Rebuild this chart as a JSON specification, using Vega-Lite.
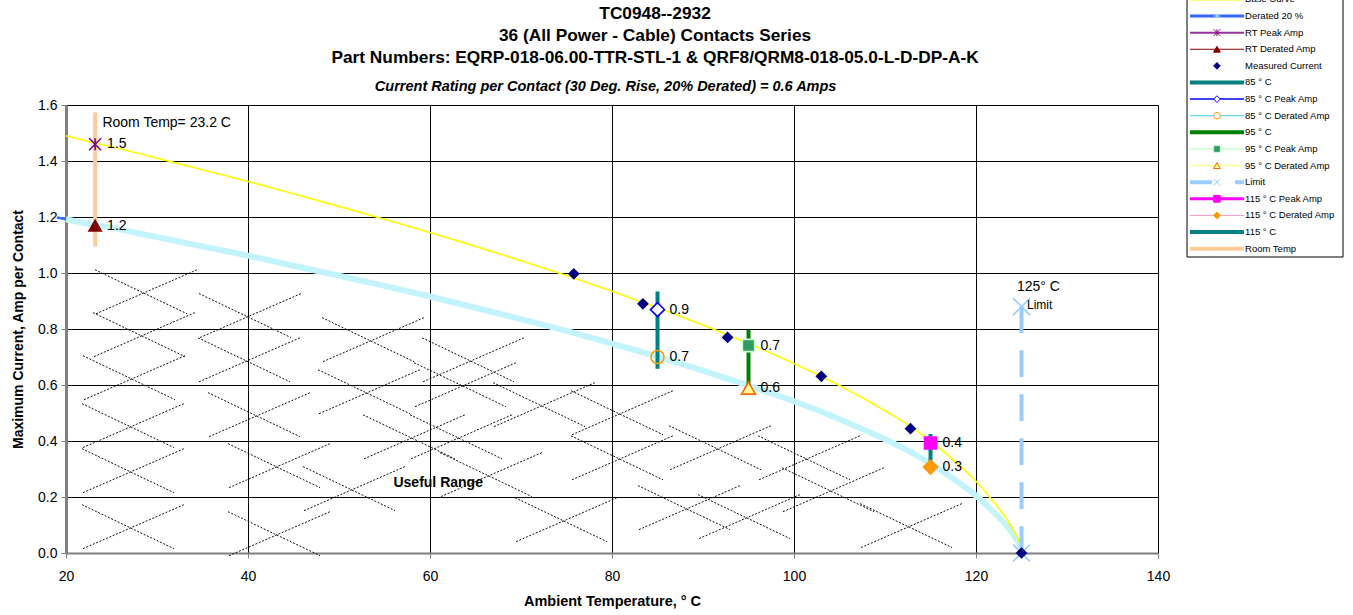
{
  "$schema": "https://vega.github.io/schema/vega-lite/v6.json",
  "background": "white",
  "width": 1092,
  "height": 448,
  "autosize": {"type": "none"},
  "padding": {"left": 66, "top": 105, "right": 195, "bottom": 62},
  "config": {"font": "Liberation Sans", "view": {"stroke": null}},
  "datasets": {
    "curve": [
      {"s": "base", "T": 20, "amp": 1.49}, {"s": "base", "T": 23.2, "amp": 1.464}, {"s": "base", "T": 25, "amp": 1.451},
      {"s": "base", "T": 30, "amp": 1.41}, {"s": "base", "T": 35, "amp": 1.369}, {"s": "base", "T": 40, "amp": 1.327},
      {"s": "base", "T": 45, "amp": 1.283}, {"s": "base", "T": 50, "amp": 1.238}, {"s": "base", "T": 55, "amp": 1.192},
      {"s": "base", "T": 60, "amp": 1.145}, {"s": "base", "T": 65, "amp": 1.095}, {"s": "base", "T": 70, "amp": 1.044},
      {"s": "base", "T": 75, "amp": 0.991}, {"s": "base", "T": 80, "amp": 0.935}, {"s": "base", "T": 85, "amp": 0.876},
      {"s": "base", "T": 90, "amp": 0.814}, {"s": "base", "T": 95, "amp": 0.748}, {"s": "base", "T": 100, "amp": 0.677},
      {"s": "base", "T": 105, "amp": 0.598}, {"s": "base", "T": 110, "amp": 0.508}, {"s": "base", "T": 113, "amp": 0.448},
      {"s": "base", "T": 115, "amp": 0.4}, {"s": "base", "T": 118, "amp": 0.318}, {"s": "base", "T": 120, "amp": 0.256},
      {"s": "base", "T": 121.5, "amp": 0.2}, {"s": "base", "T": 122.5, "amp": 0.16}, {"s": "base", "T": 123.5, "amp": 0.115},
      {"s": "base", "T": 124.3, "amp": 0.07}, {"s": "base", "T": 124.8, "amp": 0.035}, {"s": "base", "T": 125, "amp": 0},
      {"s": "derated", "T": 19, "amp": 1.198}, {"s": "derated", "T": 20, "amp": 1.192}, {"s": "derated", "T": 23.2, "amp": 1.171},
      {"s": "derated", "T": 25, "amp": 1.161}, {"s": "derated", "T": 30, "amp": 1.128}, {"s": "derated", "T": 35, "amp": 1.095},
      {"s": "derated", "T": 40, "amp": 1.062}, {"s": "derated", "T": 45, "amp": 1.026}, {"s": "derated", "T": 50, "amp": 0.99},
      {"s": "derated", "T": 55, "amp": 0.954}, {"s": "derated", "T": 60, "amp": 0.916}, {"s": "derated", "T": 65, "amp": 0.876},
      {"s": "derated", "T": 70, "amp": 0.835}, {"s": "derated", "T": 75, "amp": 0.793}, {"s": "derated", "T": 80, "amp": 0.748},
      {"s": "derated", "T": 85, "amp": 0.701}, {"s": "derated", "T": 90, "amp": 0.651}, {"s": "derated", "T": 95, "amp": 0.598},
      {"s": "derated", "T": 100, "amp": 0.542}, {"s": "derated", "T": 105, "amp": 0.478}, {"s": "derated", "T": 110, "amp": 0.406},
      {"s": "derated", "T": 113, "amp": 0.358}, {"s": "derated", "T": 115, "amp": 0.32}, {"s": "derated", "T": 118, "amp": 0.254},
      {"s": "derated", "T": 120, "amp": 0.205}, {"s": "derated", "T": 121.5, "amp": 0.16}, {"s": "derated", "T": 122.5, "amp": 0.128},
      {"s": "derated", "T": 123.5, "amp": 0.092}, {"s": "derated", "T": 124.3, "amp": 0.056}, {"s": "derated", "T": 124.8, "amp": 0.028},
      {"s": "derated", "T": 125, "amp": 0}
    ],
    "hatch": [
      {"T": 28.46, "amp": 0.933}, {"T": 28.24, "amp": 0.78}, {"T": 27.14, "amp": 0.626}, {"T": 27.03, "amp": 0.455},
      {"T": 27.03, "amp": 0.294}, {"T": 27.03, "amp": 0.094},
      {"T": 39.89, "amp": 0.848}, {"T": 39.78, "amp": 0.69}, {"T": 40.88, "amp": 0.494}, {"T": 43.08, "amp": 0.312},
      {"T": 43.08, "amp": 0.069},
      {"T": 53.41, "amp": 0.762}, {"T": 52.97, "amp": 0.576}, {"T": 57.91, "amp": 0.415}, {"T": 51.32, "amp": 0.23},
      {"T": 64.4, "amp": 0.69}, {"T": 63.52, "amp": 0.601}, {"T": 63.08, "amp": 0.415}, {"T": 66.37, "amp": 0.28},
      {"T": 72.2, "amp": 0.53}, {"T": 74.62, "amp": 0.119},
      {"T": 80.77, "amp": 0.501}, {"T": 80.77, "amp": 0.34}, {"T": 88.13, "amp": 0.162}, {"T": 91.54, "amp": 0.376},
      {"T": 94.73, "amp": 0.13}, {"T": 101.32, "amp": 0.34}, {"T": 103.96, "amp": 0.226}, {"T": 112.53, "amp": 0.098}
    ],
    "bars": [
      {"name": "RT", "T": 23.2, "amp": 1.095, "amp2": 1.574},
      {"name": "85", "T": 85, "amp": 0.658, "amp2": 0.934},
      {"name": "95", "T": 95, "amp": 0.589, "amp2": 0.797},
      {"name": "115", "T": 115, "amp": 0.307, "amp2": 0.425}
    ],
    "limit": [{"T": 125, "amp": 0, "amp2": 0.88}],
    "markers": [
      {"name": "Limit", "T": 125, "amp": 0.88, "label": ""},
      {"name": "Limit", "T": 125, "amp": 0, "label": ""},
      {"name": "Measured", "T": 75.8, "amp": 0.997, "label": ""},
      {"name": "Measured", "T": 83.4, "amp": 0.89, "label": ""},
      {"name": "Measured", "T": 92.7, "amp": 0.77, "label": ""},
      {"name": "Measured", "T": 103.0, "amp": 0.631, "label": ""},
      {"name": "Measured", "T": 112.8, "amp": 0.444, "label": ""},
      {"name": "Measured", "T": 125, "amp": 0, "label": ""},
      {"name": "RT Peak", "T": 23.2, "amp": 1.46, "label": "1.5"},
      {"name": "RT Derated", "T": 23.2, "amp": 1.169, "label": "1.2"},
      {"name": "85 Peak", "T": 85, "amp": 0.869, "label": "0.9"},
      {"name": "85 Derated", "T": 85, "amp": 0.7, "label": "0.7"},
      {"name": "95 Peak", "T": 95, "amp": 0.741, "label": "0.7"},
      {"name": "95 Derated", "T": 95, "amp": 0.589, "label": "0.6"},
      {"name": "115 Peak", "T": 115, "amp": 0.393, "label": "0.4"},
      {"name": "115 Derated", "T": 115, "amp": 0.307, "label": "0.3"}
    ],
    "notes": [
      {"kind": "title", "text": "TC0948--2932", "T": 84.73, "amp": 1.926},
      {"kind": "title", "text": "36 (All Power - Cable) Contacts Series", "T": 84.73, "amp": 1.8475},
      {"kind": "title", "text": "Part Numbers: EQRP-018-06.00-TTR-STL-1 & QRF8/QRM8-018-05.0-L-D-DP-A-K", "T": 84.73, "amp": 1.769},
      {"kind": "sub", "text": "Current Rating per Contact (30 Deg. Rise, 20% Derated)  = 0.6 Amps", "T": 79.3, "amp": 1.665},
      {"kind": "plain", "text": "Room Temp= 23.2 C", "T": 24.0, "amp": 1.537},
      {"kind": "plain", "text": "125° C", "T": 124.5, "amp": 0.951},
      {"kind": "small", "text": "Limit", "T": 127.0, "amp": 0.885},
      {"kind": "bold", "text": "Useful Range", "T": 60.9, "amp": 0.251}
    ],
    "legend": [
      {"name": "Base Curve", "ord": 0}, {"name": "Derated 20 %", "ord": 1}, {"name": "RT Peak Amp", "ord": 2},
      {"name": "RT Derated Amp", "ord": 3}, {"name": "Measured Current", "ord": 4}, {"name": "85 ° C", "ord": 5},
      {"name": "85  ° C Peak Amp", "ord": 6}, {"name": "85  ° C Derated Amp", "ord": 7}, {"name": "95  ° C", "ord": 8},
      {"name": "95  ° C Peak Amp", "ord": 9}, {"name": "95  ° C Derated Amp", "ord": 10}, {"name": "Limit", "ord": 11},
      {"name": "115  ° C Peak Amp", "ord": 12}, {"name": "115  ° C Derated Amp", "ord": 13}, {"name": "115  ° C", "ord": 14},
      {"name": "Room Temp", "ord": 15}
    ]
  },
  "layer": [
    {
      "encoding": {
        "x": {
          "field": "T", "type": "quantitative",
          "scale": {"domain": [20, 140], "nice": false, "zero": false},
          "axis": {
            "values": [20, 40, 60, 80, 100, 120, 140], "format": "d",
            "title": "Ambient Temperature,  ° C", "titleFontSize": 14.5, "titleFontWeight": "bold", "titleColor": "#000", "titlePadding": 11,
            "labelFontSize": 14, "labelColor": "#000", "labelPadding": 11, "labelFlush": false,
            "tickSize": 5, "tickColor": "#808080", "domainColor": "#808080", "domainWidth": 2,
            "grid": true, "gridColor": "#000", "gridWidth": 1, "gridOpacity": 1
          }
        },
        "y": {
          "field": "amp", "type": "quantitative",
          "scale": {"domain": [0, 1.6], "nice": false, "zero": false},
          "axis": {
            "values": [0, 0.2, 0.4, 0.6, 0.8, 1.0, 1.2, 1.4, 1.6], "format": ".1f",
            "title": "Maximum Current, Amp per Contact", "titleFontSize": 14, "titleFontWeight": "bold", "titleColor": "#000", "titlePadding": 12,
            "labelFontSize": 14, "labelColor": "#000", "labelPadding": 4, "labelFlush": false,
            "tickSize": 5, "tickColor": "#808080", "domainColor": "#808080", "domainWidth": 3,
            "grid": true, "gridColor": "#000", "gridWidth": 1, "gridOpacity": 1
          }
        }
      },
      "layer": [
        {
          "data": {"name": "hatch"},
          "mark": {"type": "point", "shape": "M-0.96,-0.44L0.88,0.44M-0.94,0.44L1.08,-0.44", "size": 10000, "filled": false,
                   "stroke": "#111", "strokeWidth": 1, "strokeDash": [2, 1.6], "opacity": 1}
        },
        {
          "data": {"name": "curve"},
          "transform": [{"filter": "datum.s === 'derated'"}],
          "mark": {"type": "line", "color": "#3366ff", "strokeWidth": 2.5, "interpolate": "monotone"}
        },
        {
          "data": {"name": "curve"},
          "transform": [{"filter": "datum.s === 'derated' && datum.T >= 20"}],
          "mark": {"type": "line", "color": "#c4f4fb", "strokeWidth": 6, "interpolate": "monotone"}
        },
        {
          "data": {"name": "curve"},
          "transform": [{"filter": "datum.s === 'base'"}],
          "mark": {"type": "line", "color": "#ffff00", "strokeWidth": 1.6, "interpolate": "monotone"}
        },
        {
          "data": {"name": "bars"},
          "mark": {"type": "rule", "strokeWidth": 4},
          "encoding": {
            "y2": {"field": "amp2"},
            "color": {"field": "name", "type": "nominal", "legend": null,
                      "scale": {"domain": ["RT", "85", "95", "115"], "range": ["#ffcc99", "#008080", "#008000", "#008080"]}}
          }
        },
        {
          "data": {"name": "limit"},
          "mark": {"type": "rule", "color": "#99ccff", "strokeWidth": 4, "strokeDash": [26.7, 17.3]},
          "encoding": {"y2": {"field": "amp2"}}
        },
        {
          "data": {"name": "markers"},
          "mark": {"type": "point", "opacity": 1, "strokeWidth": 1.6},
          "encoding": {
            "shape": {"field": "name", "type": "nominal", "legend": null,
              "scale": {"domain": ["Measured", "Limit", "RT Peak", "RT Derated", "85 Peak", "85 Derated", "95 Peak", "95 Derated", "115 Peak", "115 Derated"],
                        "range": ["diamond", "M-1,-1L1,1M-1,1L1,-1", "M-1,-1L1,1M-1,1L1,-1M0,-1L0,1", "triangle-up", "diamond", "circle", "square", "triangle-up", "square", "diamond"]}},
            "fill": {"field": "name", "type": "nominal", "legend": null,
              "scale": {"domain": ["Measured", "Limit", "RT Peak", "RT Derated", "85 Peak", "85 Derated", "95 Peak", "95 Derated", "115 Peak", "115 Derated"],
                        "range": ["#000080", "transparent", "transparent", "#800000", "#ffffff", "transparent", "#339966", "#ffff99", "#ff00ff", "#ff9900"]}},
            "stroke": {"field": "name", "type": "nominal", "legend": null,
              "scale": {"domain": ["Measured", "Limit", "RT Peak", "RT Derated", "85 Peak", "85 Derated", "95 Peak", "95 Derated", "115 Peak", "115 Derated"],
                        "range": ["#000080", "#99ccff", "#800080", "#800000", "#0000ff", "#ff9900", "#ccffcc", "#ff6600", "#ff00ff", "#ff9900"]}},
            "size": {"field": "name", "type": "nominal", "legend": null,
              "scale": {"type": "ordinal", "domain": ["Measured", "Limit", "RT Peak", "RT Derated", "85 Peak", "85 Derated", "95 Peak", "95 Derated", "115 Peak", "115 Derated"],
                        "range": [90, 289, 144, 150, 196, 169, 150, 196, 144, 196]}}
          }
        },
        {
          "data": {"name": "markers"},
          "transform": [{"filter": "datum.label !== ''"}],
          "mark": {"type": "text", "align": "left", "baseline": "middle", "dx": 12, "fontSize": 14, "color": "#000"},
          "encoding": {"text": {"field": "label"}}
        },
        {
          "data": {"name": "notes"},
          "transform": [{"filter": "datum.kind === 'title'"}],
          "mark": {"type": "text", "align": "center", "baseline": "middle", "fontSize": 17.3, "fontWeight": "bold", "color": "#000"},
          "encoding": {"text": {"field": "text"}}
        },
        {
          "data": {"name": "notes"},
          "transform": [{"filter": "datum.kind === 'plain'"}],
          "mark": {"type": "text", "align": "left", "baseline": "middle", "fontSize": 14, "color": "#000"},
          "encoding": {"text": {"field": "text"}}
        },
        {
          "data": {"name": "notes"},
          "transform": [{"filter": "datum.kind === 'small'"}],
          "mark": {"type": "text", "align": "center", "baseline": "middle", "fontSize": 12, "color": "#000"},
          "encoding": {"text": {"field": "text"}}
        },
        {
          "data": {"name": "notes"},
          "transform": [{"filter": "datum.kind === 'bold'"}],
          "mark": {"type": "text", "align": "center", "baseline": "middle", "fontSize": 14, "fontWeight": "bold", "color": "#000"},
          "encoding": {"text": {"field": "text"}}
        },
        {
          "data": {"name": "notes"},
          "transform": [{"filter": "datum.kind === 'sub'"}],
          "mark": {"type": "text", "align": "center", "baseline": "middle", "fontSize": 14.5, "fontWeight": "bold", "fontStyle": "italic", "color": "#000"},
          "encoding": {"text": {"field": "text"}}
        }
      ]
    },
    {
      "layer": [
        {
          "data": {"values": [{"box": "legend"}]},
          "mark": {"type": "rect", "fill": "#ffffff", "stroke": "#000", "strokeWidth": 1},
          "encoding": {
            "x": {"datum": 0, "type": "quantitative", "scale": {"domain": [-71.86, -1.86], "nice": false, "zero": false}, "axis": null},
            "x2": {"datum": 10},
            "y": {"datum": -0.5, "type": "quantitative", "scale": {"domain": [6.354, 33.309], "nice": false, "zero": false, "reverse": true}, "axis": null},
            "y2": {"datum": 15.5}
          }
        },
        {
          "data": {"name": "legend"},
          "transform": [{"filter": {"not": {"field": "name", "equal": "Measured Current"}}}],
          "mark": {"type": "rule"},
          "encoding": {
            "x": {"datum": 0.19, "type": "quantitative"},
            "x2": {"datum": 3.65},
            "y": {"field": "ord", "type": "quantitative"},
            "color": {"field": "name", "type": "nominal", "legend": null,
              "scale": {"domain": ["Base Curve", "Derated 20 %", "RT Peak Amp", "RT Derated Amp", "85 ° C", "85  ° C Peak Amp", "85  ° C Derated Amp", "95  ° C", "95  ° C Peak Amp", "95  ° C Derated Amp", "Limit", "115  ° C Peak Amp", "115  ° C Derated Amp", "115  ° C", "Room Temp"],
                        "range": ["#ffff00", "#3366ff", "#993399", "#800000", "#008080", "#0000ff", "#33ccff", "#008000", "#ccffcc", "#ffff99", "#99ccff", "#ff00ff", "#ff99cc", "#008080", "#ffcc99"]}},
            "strokeWidth": {"field": "name", "type": "nominal", "legend": null,
              "scale": {"type": "ordinal", "domain": ["Base Curve", "Derated 20 %", "RT Peak Amp", "RT Derated Amp", "85 ° C", "85  ° C Peak Amp", "85  ° C Derated Amp", "95  ° C", "95  ° C Peak Amp", "95  ° C Derated Amp", "Limit", "115  ° C Peak Amp", "115  ° C Derated Amp", "115  ° C", "Room Temp"],
                        "range": [2, 3, 2, 1, 4, 1.5, 1, 4, 1.5, 1.5, 4, 3, 1, 4, 4]}},
            "strokeDash": {"field": "name", "type": "nominal", "legend": null,
              "scale": {"domain": ["Base Curve", "Derated 20 %", "RT Peak Amp", "RT Derated Amp", "85 ° C", "85  ° C Peak Amp", "85  ° C Derated Amp", "95  ° C", "95  ° C Peak Amp", "95  ° C Derated Amp", "Limit", "115  ° C Peak Amp", "115  ° C Derated Amp", "115  ° C", "Room Temp"],
                        "range": [[1, 0], [1, 0], [1, 0], [1, 0], [1, 0], [1, 0], [1, 0], [1, 0], [1, 0], [1, 0], [22, 23], [1, 0], [1, 0], [1, 0], [1, 0]]}}
          }
        },
        {
          "data": {"name": "legend"},
          "transform": [{"filter": {"field": "name", "oneOf": ["Derated 20 %", "RT Peak Amp", "RT Derated Amp", "Measured Current", "85  ° C Peak Amp", "85  ° C Derated Amp", "95  ° C Peak Amp", "95  ° C Derated Amp", "Limit", "115  ° C Peak Amp", "115  ° C Derated Amp"]}}],
          "mark": {"type": "point", "opacity": 1, "size": 45, "strokeWidth": 1},
          "encoding": {
            "x": {"datum": 1.92, "type": "quantitative"},
            "y": {"field": "ord", "type": "quantitative"},
            "shape": {"field": "name", "type": "nominal", "legend": null,
              "scale": {"domain": ["Derated 20 %", "RT Peak Amp", "RT Derated Amp", "Measured Current", "85  ° C Peak Amp", "85  ° C Derated Amp", "95  ° C Peak Amp", "95  ° C Derated Amp", "Limit", "115  ° C Peak Amp", "115  ° C Derated Amp"],
                        "range": ["M-1,0L1,0M0,-1L0,1", "M-1,-1L1,1M-1,1L1,-1M0,-1L0,1", "triangle-up", "diamond", "diamond", "circle", "square", "triangle-up", "M-1,-1L1,1M-1,1L1,-1", "square", "diamond"]}},
            "fill": {"field": "name", "type": "nominal", "legend": null,
              "scale": {"domain": ["Derated 20 %", "RT Peak Amp", "RT Derated Amp", "Measured Current", "85  ° C Peak Amp", "85  ° C Derated Amp", "95  ° C Peak Amp", "95  ° C Derated Amp", "Limit", "115  ° C Peak Amp", "115  ° C Derated Amp"],
                        "range": ["transparent", "transparent", "#800000", "#000080", "#ffffff", "#ffffff", "#339966", "#ffff99", "transparent", "#ff00ff", "#ff9900"]}},
            "stroke": {"field": "name", "type": "nominal", "legend": null,
              "scale": {"domain": ["Derated 20 %", "RT Peak Amp", "RT Derated Amp", "Measured Current", "85  ° C Peak Amp", "85  ° C Derated Amp", "95  ° C Peak Amp", "95  ° C Derated Amp", "Limit", "115  ° C Peak Amp", "115  ° C Derated Amp"],
                        "range": ["#cce6ff", "#800080", "#800000", "#000080", "#0000ff", "#ff9900", "#ccffcc", "#ff6600", "#99ccff", "#ff00ff", "#ff9900"]}}
          }
        },
        {
          "data": {"name": "legend"},
          "mark": {"type": "text", "align": "left", "baseline": "middle", "fontSize": 9.5, "color": "#000"},
          "encoding": {
            "x": {"datum": 3.72, "type": "quantitative"},
            "y": {"field": "ord", "type": "quantitative"},
            "text": {"field": "name"}
          }
        }
      ]
    }
  ],
  "resolve": {
    "scale": {"x": "independent", "y": "independent", "color": "independent", "fill": "independent", "stroke": "independent",
              "shape": "independent", "size": "independent", "strokeWidth": "independent", "strokeDash": "independent"}
  }
}
